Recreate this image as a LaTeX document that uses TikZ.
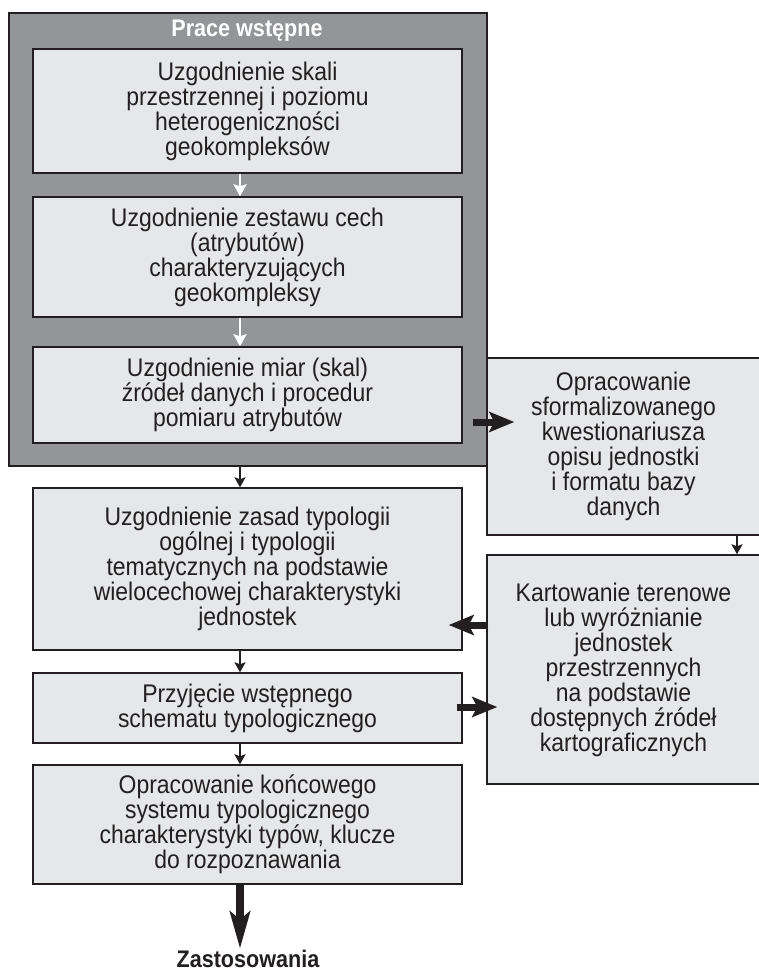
\documentclass[tikz,border=0pt]{standalone}
\usepackage{fontspec}
\setmainfont[FakeStretch=0.9]{Liberation Sans}
\usetikzlibrary{arrows.meta,calc}
\definecolor{outergray}{HTML}{939598}
\definecolor{boxfill}{HTML}{E6E7E8}
\definecolor{ink}{HTML}{231F20}
\begin{document}
\begin{tikzpicture}[x=1pt,y=-1pt,
  box/.style={draw=ink, line width=1.4pt, fill=boxfill, rectangle, inner sep=0pt,
    align=center, text=ink, font=\fontsize{25.5}{25}\selectfont},
  outerbox/.style={draw=ink, line width=1.4pt, fill=outergray, rectangle, inner sep=0pt},
  boldlabel/.style={inner sep=0pt, font=\fontsize{24}{24}\selectfont\bfseries},
  whitearrow/.style={draw=white, line width=2.8pt, -{Stealth[length=12pt,width=13pt,inset=2pt]}},
  thinarrow/.style={draw=ink, line width=2pt, -{Stealth[length=10pt,width=11pt,inset=2pt]}},
  thickarrow/.style={draw=ink, fill=ink, line width=7pt, -{Stealth[length=25pt,width=20pt,inset=5pt]}},
  downarrow/.style={draw=ink, fill=ink, line width=8pt, -{Stealth[length=37pt,width=20pt,inset=8pt]}}
]
\useasboundingbox (0,0) rectangle (758,973);
\fill[white] (0,0) rectangle (758,973);

% outer group
\node[outerbox, minimum width=478pt, minimum height=453pt] (outer) at (248,239.5) {};
\node[boldlabel, text=white] (title) at (247,31) {Prace wstępne};

\node[box, minimum width=429pt, minimum height=124pt] (b1) at (247.5,111)
  {Uzgodnienie skali\\przestrzennej i poziomu\\heterogeniczności\\geokompleksów};
\node[box, minimum width=429pt, minimum height=120pt] (b2) at (247.5,257)
  {Uzgodnienie zestawu cech\\(atrybutów)\\charakteryzujących\\geokompleksy};
\node[box, minimum width=429pt, minimum height=96pt] (b3) at (247.5,395)
  {Uzgodnienie miar (skal)\\źródeł danych i procedur\\pomiaru atrybutów};

% right column
\node[box, minimum width=273pt, minimum height=177pt] (r1) at (623.5,446.5)
  {Opracowanie\\sformalizowanego\\kwestionariusza\\opisu jednostki\\i formatu bazy\\danych};
\node[box, minimum width=273pt, minimum height=229pt] (r2) at (623.5,669.5)
  {Kartowanie terenowe\\lub wyróżnianie\\jednostek\\przestrzennych\\na podstawie\\dostępnych źródeł\\kartograficznych};

% lower left column
\node[box, minimum width=429pt, minimum height=162pt] (c1) at (247.5,569)
  {Uzgodnienie zasad typologii\\ogólnej i typologii\\tematycznych na podstawie\\wielocechowej charakterystyki\\jednostek};
\node[box, minimum width=429pt, minimum height=70pt] (c2) at (247.5,708)
  {Przyjęcie wstępnego\\schematu typologicznego};
\node[box, minimum width=429pt, minimum height=119pt] (c3) at (247.5,824.5)
  {Opracowanie końcowego\\systemu typologicznego\\charakterystyki typów, klucze\\do rozpoznawania};

\node[boldlabel, text=ink] (zast) at (248,959) {Zastosowania};

% connectors
\coordinate (ax) at (240,0);
\coordinate (rx) at (737,0);
\draw[whitearrow] (b1.south -| ax) -- (b2.north -| ax);
\draw[whitearrow] (b2.south -| ax) -- (b3.north -| ax);
\draw[thinarrow] (outer.south -| ax) -- (c1.north -| ax);
\draw[thinarrow] (c1.south -| ax) -- (c2.north -| ax);
\draw[thinarrow] (c2.south -| ax) -- (c3.north -| ax);
\draw[thinarrow] (r1.south -| rx) -- (r2.north -| rx);
\draw[downarrow] (c3.south -| ax) -- ($(c3.south -| ax)+(0,64)$);
\draw[thickarrow] ($(b3.east)+(10,27)$) -- ($(r1.west)+(28,-24.5)$);
\draw[thickarrow] ($(r2.west)+(2,-44.5)$) -- ($(c1.east)+(-14,56)$);
\draw[thickarrow] ($(c2.east)+(-6,-1)$) -- ($(r2.west)+(11,37.5)$);
\end{tikzpicture}
\end{document}
